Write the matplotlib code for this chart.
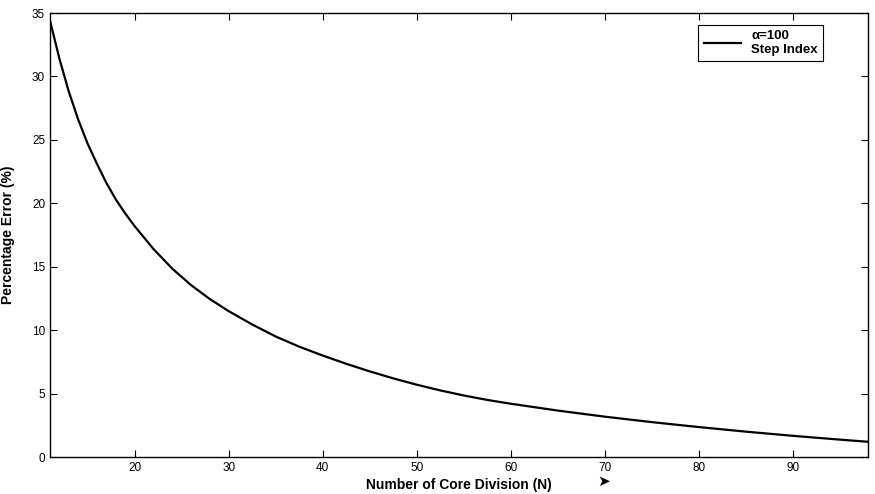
import matplotlib.pyplot as plt

# values
N = [11, 12, 13, 14, 15, 16, 17, 18, 19, 20, 22, 24, 26, 28, 30, 32.5, 35, 37.5,
     40, 42.5, 45, 47.5, 50, 52.5, 55, 57.5, 60, 65, 70, 75, 80, 85, 90, 95, 98]
err = [34.4, 31.4, 28.8, 26.6, 24.7, 23.1, 21.6, 20.3, 19.2, 18.2, 16.4, 14.85, 13.55,
       12.45, 11.5, 10.45, 9.5, 8.7, 8.0, 7.35, 6.75, 6.2, 5.7, 5.25, 4.85, 4.5, 4.2,
       3.66, 3.18, 2.75, 2.36, 2.0, 1.67, 1.37, 1.2]
xticks = [20, 30, 40, 50, 60, 70, 80, 90]
yticks = [0, 5, 10, 15, 20, 25, 30, 35]

plt.rcParams['font.family'] = ['Liberation Sans', 'DejaVu Sans']

fig = plt.figure(figsize=(8.75, 4.94), dpi=100)
ax = fig.add_axes([50/875, 37/494, 818/875, 444/494])

ax.plot(N, err, color='black', lw=1.6, label='\u03b1=100\nStep Index')

ax.set_xlim(11, 98)
ax.set_ylim(0, 35)
ax.set_xticks(xticks)
ax.set_yticks(yticks)
ax.tick_params(direction='in', length=5, top=True, right=True, labelsize=8.5, colors='black')
for s in ax.spines.values():
    s.set_linewidth(1.0)

ax.set_xlabel('Number of Core Division (N)', fontsize=10, fontweight='bold', labelpad=3)
ax.set_ylabel('Percentage Error (%)', fontsize=10, fontweight='bold', labelpad=12)
ax.text(0.677, -0.055, '\u27a4', transform=ax.transAxes, fontsize=11,
        family=['DejaVu Sans'], ha='center', va='center')

leg = ax.legend(loc='upper right', bbox_to_anchor=(0.945, 0.973), borderaxespad=0,
                prop={'weight': 'bold', 'size': 9.5}, handlelength=2.8,
                fancybox=False, edgecolor='black', framealpha=1, borderpad=0.4)
leg.get_frame().set_linewidth(0.8)

fig.savefig('out.png', dpi=100)
